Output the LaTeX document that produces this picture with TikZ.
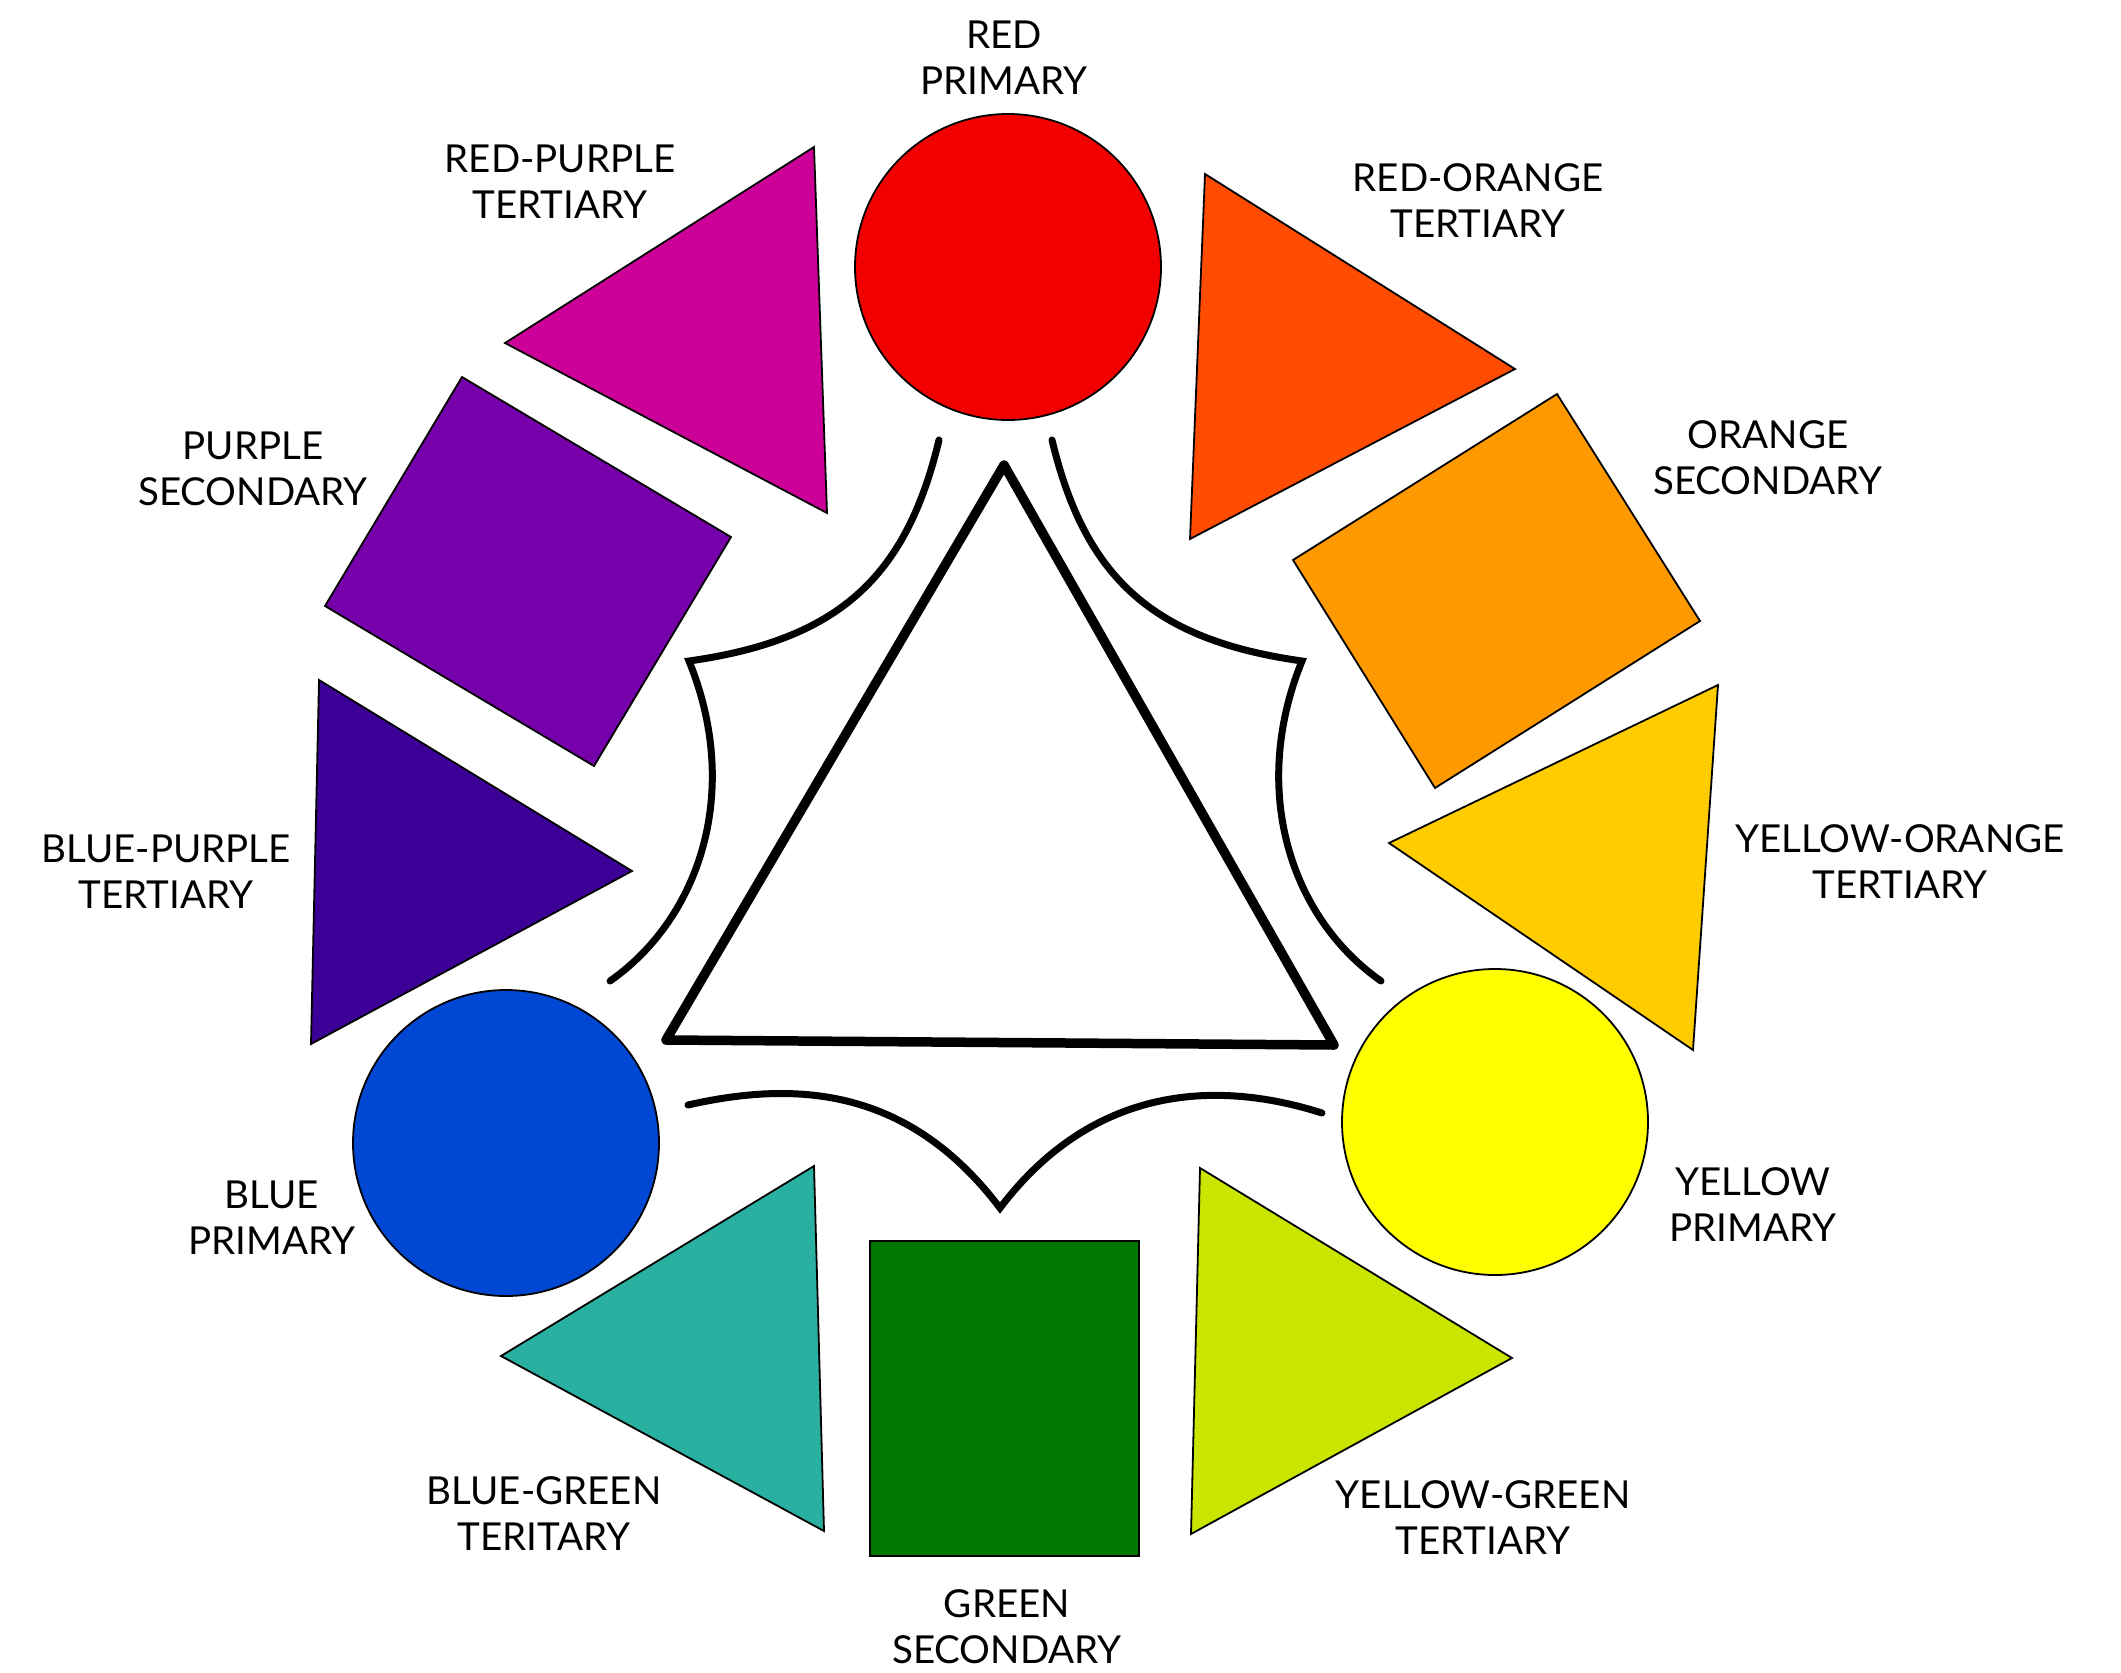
\documentclass[tikz,border=0pt]{standalone}
\usepackage{fontspec}
\setmainfont{Lato}
\definecolor{cred}{RGB}{242,0,0}
\definecolor{credorange}{RGB}{255,76,0}
\definecolor{corange}{RGB}{255,153,0}
\definecolor{cyelloworange}{RGB}{255,204,0}
\definecolor{cyellow}{RGB}{255,255,0}
\definecolor{cyellowgreen}{RGB}{202,230,0}
\definecolor{cgreen}{RGB}{0,120,0}
\definecolor{cbluegreen}{RGB}{42,176,160}
\definecolor{cblue}{RGB}{0,72,212}
\definecolor{cbluepurple}{RGB}{60,0,150}
\definecolor{cpurple}{RGB}{118,0,170}
\definecolor{credpurple}{RGB}{204,0,153}
\begin{document}
\begin{tikzpicture}[x=1pt,y=-1pt,
  piece/.style={draw=black, line width=1.8pt, line join=miter},
  disc/.style={circle, draw=black, line width=1.8pt, inner sep=0pt, minimum size=306pt},
  lab/.style={font=\fontsize{38.5}{46}\selectfont, align=center, inner sep=0pt, text=black},
  curve/.style={draw=black, line width=7pt, line cap=round, line join=miter},
]
\useasboundingbox (0,0) rectangle (2121,1673);
\fill[white] (0,0) rectangle (2121,1673);

% primary circles
\node[disc, fill=cred] (red) at (1008,267) {};
\node[disc, fill=cblue] (blue) at (506,1143) {};
\node[disc, fill=cyellow] (yellow) at (1495,1122) {};

% tertiary triangles
\filldraw[piece, fill=credpurple] (814,147) -- (827,513) -- (505,343) -- cycle;
\filldraw[piece, fill=credorange] (1205,174) -- (1515,369) -- (1190,539) -- cycle;
\filldraw[piece, fill=cbluepurple] (319,680) -- (632,871) -- (311,1044) -- cycle;
\filldraw[piece, fill=cyelloworange] (1718,685) -- (1693,1050) -- (1389,843) -- cycle;
\filldraw[piece, fill=cbluegreen] (814,1166) -- (824,1531) -- (501,1356) -- cycle;
\filldraw[piece, fill=cyellowgreen] (1200,1168) -- (1512,1358) -- (1191,1534) -- cycle;

% secondary rectangles
\filldraw[piece, fill=cpurple] (462,377) -- (731,537) -- (594,766) -- (325,606) -- cycle;
\filldraw[piece, fill=corange] (1557,394) -- (1700,621) -- (1435,788) -- (1293,560) -- cycle;
\filldraw[piece, fill=cgreen] (870,1241) rectangle (1139,1556);

% central triangle
\draw[line width=9.5pt, line join=round] (1004,465) -- (1334,1045) -- (666,1040) -- cycle;

% cusped curves
\draw[curve] (939,440) .. controls (906,578) and (838,640) .. (689,661)
             .. controls (742,791) and (700,918) .. (610,981);
\draw[curve] (1052,440) .. controls (1085,578) and (1153,640) .. (1302,661)
             .. controls (1249,791) and (1291,918) .. (1381,981);
\draw[curve] (688,1105) .. controls (798,1080) and (909,1088) .. (1000,1208)
             .. controls (1091,1088) and (1212,1078) .. (1322,1113);

% labels
\node[lab] (lred) at (1004,58) {RED\\PRIMARY};
\node[lab] (lredpurple) at (560,182) {RED-PURPLE\\TERTIARY};
\node[lab] (lredorange) at (1478,201) {RED-ORANGE\\TERTIARY};
\node[lab] (lpurple) at (253,469) {PURPLE\\SECONDARY};
\node[lab] (lorange) at (1768,458) {ORANGE\\SECONDARY};
\node[lab] (lbluepurple) at (166,872) {BLUE-PURPLE\\TERTIARY};
\node[lab] (lyelloworange) at (1900,862) {YELLOW-ORANGE\\TERTIARY};
\node[lab] (lblue) at (272,1218) {BLUE\\PRIMARY};
\node[lab] (lyellow) at (1753,1205) {YELLOW\\PRIMARY};
\node[lab] (lbluegreen) at (544,1514) {BLUE-GREEN\\TERITARY};
\node[lab] (lyellowgreen) at (1483,1518) {YELLOW-GREEN\\TERTIARY};
\node[lab] (lgreen) at (1007,1627) {GREEN\\SECONDARY};
\end{tikzpicture}
\end{document}
